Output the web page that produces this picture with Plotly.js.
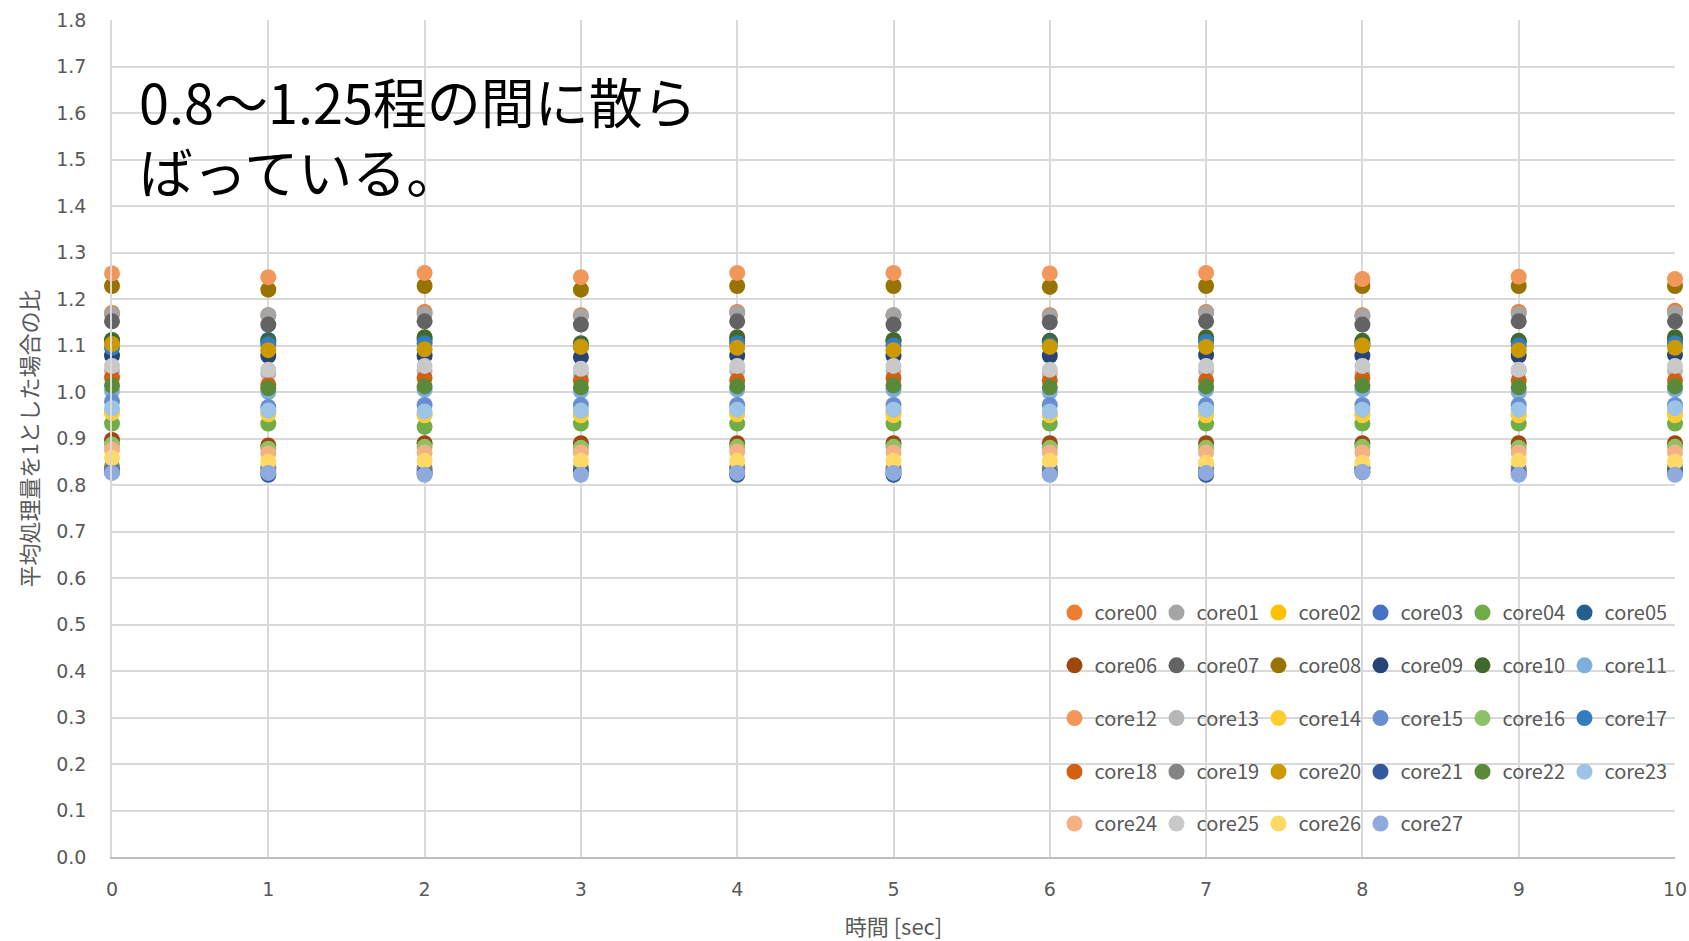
<!DOCTYPE html>
<html>
<head>
<meta charset="utf-8">
<script src="https://cdn.plot.ly/plotly-3.0.1.min.js"></script>
<style>html,body{margin:0;padding:0;background:#fff;}#chart{width:1689px;height:941px;}</style>
</head>
<body>
<div id="chart"></div>
<script>
const times = [0,1,2,3,4,5,6,7,8,9,10];
const coreNames = ["core00","core01","core02","core03","core04","core05","core06","core07","core08","core09","core10","core11","core12","core13","core14","core15","core16","core17","core18","core19","core20","core21","core22","core23","core24","core25","core26","core27"];
const core00 = [1.170,1.165,1.172,1.165,1.172,1.165,1.165,1.172,1.165,1.172,1.175];
const core01 = [1.167,1.165,1.168,1.163,1.170,1.165,1.163,1.170,1.163,1.168,1.170];
const core02 = [0.957,0.955,0.952,0.952,0.955,0.955,0.952,0.952,0.952,0.952,0.955];
const core03 = [0.835,0.832,0.830,0.832,0.835,0.830,0.830,0.830,0.835,0.830,0.835];
const core04 = [0.932,0.932,0.925,0.932,0.932,0.932,0.932,0.932,0.932,0.932,0.932];
const core05 = [1.110,1.112,1.112,1.100,1.110,1.108,1.110,1.112,1.105,1.108,1.112];
const core06 = [0.897,0.885,0.890,0.890,0.890,0.890,0.890,0.890,0.890,0.890,0.890];
const core07 = [1.152,1.145,1.152,1.145,1.152,1.145,1.150,1.152,1.145,1.152,1.152];
const core08 = [1.228,1.220,1.228,1.220,1.228,1.228,1.226,1.228,1.228,1.228,1.228];
const core09 = [1.078,1.078,1.078,1.075,1.078,1.078,1.078,1.080,1.078,1.078,1.080];
const core10 = [1.112,1.108,1.118,1.105,1.118,1.112,1.108,1.118,1.110,1.110,1.118];
const core11 = [1.002,1.000,1.005,1.002,1.005,1.005,1.000,1.005,1.005,1.000,1.005];
const core12 = [1.255,1.247,1.256,1.247,1.256,1.256,1.255,1.256,1.243,1.248,1.243];
const core13 = [1.045,1.040,1.045,1.040,1.045,1.045,1.040,1.045,1.040,1.045,1.045];
const core14 = [0.955,0.952,0.950,0.950,0.952,0.950,0.950,0.950,0.950,0.950,0.950];
const core15 = [0.980,0.968,0.972,0.972,0.972,0.972,0.972,0.972,0.972,0.972,0.972];
const core16 = [0.887,0.878,0.882,0.880,0.882,0.882,0.880,0.880,0.882,0.880,0.882];
const core17 = [1.095,1.102,1.105,1.098,1.105,1.100,1.100,1.108,1.100,1.100,1.105];
const core18 = [1.031,1.015,1.030,1.025,1.025,1.030,1.025,1.025,1.030,1.025,1.025];
const core19 = [0.840,0.838,0.835,0.838,0.838,0.835,0.835,0.835,0.838,0.835,0.838];
const core20 = [1.103,1.090,1.092,1.097,1.095,1.090,1.097,1.097,1.100,1.090,1.095];
const core21 = [0.828,0.822,0.825,0.828,0.822,0.822,0.825,0.822,0.828,0.825,0.828];
const core22 = [1.014,1.008,1.012,1.010,1.012,1.014,1.010,1.012,1.014,1.010,1.012];
const core23 = [0.965,0.960,0.958,0.960,0.962,0.962,0.958,0.962,0.962,0.962,0.965];
const core24 = [0.876,0.868,0.870,0.870,0.872,0.870,0.870,0.870,0.870,0.870,0.870];
const core25 = [1.056,1.048,1.056,1.050,1.056,1.056,1.048,1.056,1.056,1.048,1.056];
const core26 = [0.858,0.850,0.852,0.852,0.852,0.852,0.852,0.848,0.848,0.852,0.850];
const core27 = [0.826,0.826,0.822,0.822,0.826,0.826,0.822,0.826,0.828,0.822,0.822];
const coreValues = [core00,core01,core02,core03,core04,core05,core06,core07,core08,core09,core10,core11,core12,core13,core14,core15,core16,core17,core18,core19,core20,core21,core22,core23,core24,core25,core26,core27];
const coreColors = ["#ED7D31","#A5A5A5","#FFC000","#4472C4","#70AD47","#255E91","#9E480E","#636363","#997300","#264478","#43682B","#7CAFDD","#F1975A","#B7B7B7","#FFCD33","#698ED0","#8CC168","#327DC2","#D26012","#848484","#CC9A00","#335AA1","#5A8A39","#9DC3E6","#F4B183","#C9C9C9","#FFD966","#8FAADC"];
const noteLines = ["0.8～1.25程の間に散ら", "ばっている。"];
const xTitle = "時間 [sec]";
const yTitle = "平均処理量を1とした場合の比";

const legendIds = ["legend","legend2","legend3","legend4","legend5"];
const traces = coreNames.map((name, i) => ({
  type: "scatter",
  mode: "markers",
  name: name,
  x: times,
  y: coreValues[i],
  marker: {color: coreColors[i], size: 16},
  cliponaxis: false,
  legend: legendIds[Math.floor(i / 6)],
  hoverinfo: "name+y"
}));

const rowY = [0.292, 0.229, 0.166, 0.102, 0.040];
const legendBase = {
  orientation: "h",
  x: 0.603,
  xanchor: "left",
  yanchor: "middle",
  entrywidth: 57,
  entrywidthmode: "pixels",
  bgcolor: "rgba(0,0,0,0)",
  font: {family: "Noto Sans CJK JP", size: 20, color: "#595959"},
  tracegroupgap: 0,
  itemclick: false
};

const layout = {
  width: 1689,
  height: 941,
  margin: {l: 112, r: 14, t: 20, b: 84},
  paper_bgcolor: "#ffffff",
  plot_bgcolor: "#ffffff",
  showlegend: true,
  xaxis: {
    range: [0, 10],
    dtick: 1,
    tick0: 0,
    showgrid: true,
    gridcolor: "#d9d9d9",
    gridwidth: 1.5,
    zeroline: false,
    showline: true,
    linecolor: "#bfbfbf",
    linewidth: 1.5,
    ticks: "",
    ticklabelstandoff: 14,
    tickfont: {family: "DejaVu Sans", size: 19, color: "#595959"},
    title: {text: xTitle, font: {family: "Noto Sans CJK JP", size: 22, color: "#595959"}, standoff: 23},
    fixedrange: true
  },
  yaxis: {
    range: [0, 1.8],
    dtick: 0.1,
    tick0: 0,
    tickformat: ".1f",
    showgrid: true,
    gridcolor: "#d9d9d9",
    gridwidth: 1.5,
    zeroline: false,
    showline: true,
    linecolor: "#d9d9d9",
    linewidth: 1.5,
    ticks: "",
    ticklabelstandoff: 20,
    tickfont: {family: "DejaVu Sans", size: 19, color: "#595959"},
    title: {text: yTitle, font: {family: "Noto Sans CJK JP", size: 22, color: "#595959"}, standoff: 12},
    fixedrange: true
  },
  annotations: [
    {xref: "paper", yref: "paper", x: 0.016, y: 0.862, xanchor: "left", yanchor: "middle", align: "left", showarrow: false,
     text: noteLines.join("<br>"), font: {family: "Noto Sans CJK JP", size: 54, color: "#000000"}}
  ]
};
legendIds.forEach((id, k) => {
  layout[id] = Object.assign({}, legendBase, {y: rowY[k]});
});

Plotly.newPlot("chart", traces, layout, {displayModeBar: false});
</script>
</body>
</html>
